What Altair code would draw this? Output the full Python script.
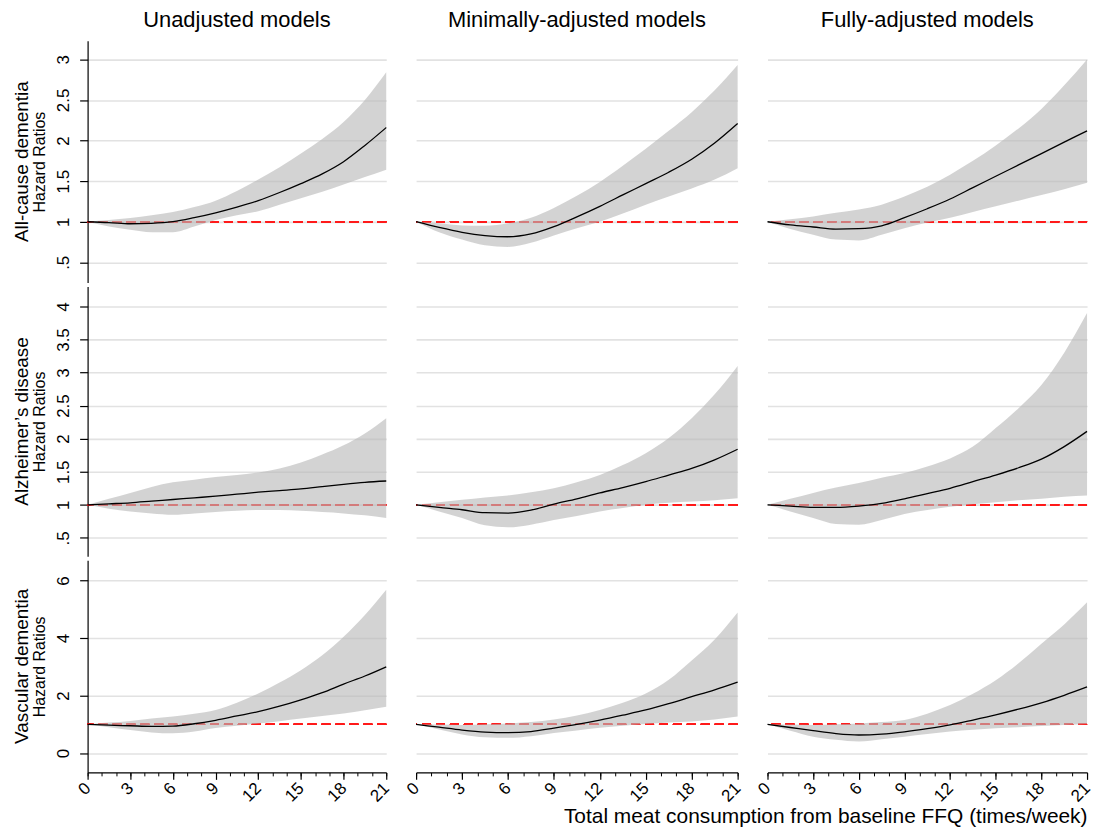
import altair as alt
import pandas as pd

X = [0, 1.5, 3, 4.5, 6, 7.5, 9, 10.5, 12, 13.5, 15, 16.5, 18, 19.5, 21]
X_MAJOR = [0, 3, 6, 9, 12, 15, 18, 21]
X_MINOR = list(range(22))

ROWS = ["All-cause dementia", "Alzheimer\u2019s disease", "Vascular dementia"]
COLS = ["Unadjusted models", "Minimally-adjusted models", "Fully-adjusted models"]
Y_TITLE = "Hazard Ratios"
X_TITLE = "Total meat consumption from baseline FFQ (times/week)"
REF = 1

Y_TICKS = [[0.5, 1, 1.5, 2, 2.5, 3], [0.5, 1, 1.5, 2, 2.5, 3, 3.5, 4], [0, 2, 4, 6]]
Y_DOMAINS = [[0.25, 3.23], [0.22, 4.3], [-0.67, 6.7]]

# All-cause dementia
HR_AC_U = [1.00, 0.99, 0.975, 0.98, 1.00, 1.05, 1.11, 1.18, 1.26, 1.36, 1.47, 1.59, 1.74, 1.94, 2.16]
LO_AC_U = [1.00, 0.94, 0.90, 0.87, 0.87, 0.94, 1.02, 1.08, 1.13, 1.21, 1.29, 1.37, 1.46, 1.55, 1.64]
HI_AC_U = [1.00, 1.02, 1.045, 1.08, 1.12, 1.18, 1.26, 1.38, 1.52, 1.67, 1.84, 2.02, 2.23, 2.50, 2.84]

HR_AC_M = [1.00, 0.93, 0.87, 0.83, 0.815, 0.85, 0.94, 1.06, 1.19, 1.33, 1.47, 1.61, 1.77, 1.97, 2.21]
LO_AC_M = [1.00, 0.87, 0.78, 0.71, 0.69, 0.74, 0.83, 0.92, 1.00, 1.10, 1.21, 1.31, 1.41, 1.52, 1.66]
HI_AC_M = [1.00, 0.98, 0.955, 0.95, 0.98, 1.05, 1.17, 1.32, 1.49, 1.69, 1.90, 2.12, 2.35, 2.62, 2.93]

HR_AC_F = [1.00, 0.96, 0.935, 0.91, 0.915, 0.95, 1.05, 1.16, 1.28, 1.42, 1.56, 1.70, 1.84, 1.98, 2.12]
LO_AC_F = [1.00, 0.91, 0.84, 0.78, 0.77, 0.84, 0.92, 0.99, 1.05, 1.12, 1.19, 1.26, 1.33, 1.40, 1.48]
HI_AC_F = [1.00, 1.03, 1.065, 1.11, 1.15, 1.21, 1.31, 1.43, 1.58, 1.75, 1.94, 2.15, 2.39, 2.68, 3.00]

# Alzheimer's disease
HR_AD_U = [1.00, 1.015, 1.03, 1.055, 1.08, 1.105, 1.13, 1.16, 1.19, 1.215, 1.24, 1.275, 1.31, 1.34, 1.36]
LO_AD_U = [1.00, 0.94, 0.90, 0.87, 0.85, 0.87, 0.89, 0.91, 0.92, 0.92, 0.91, 0.89, 0.87, 0.84, 0.80]
HI_AD_U = [1.00, 1.09, 1.18, 1.27, 1.34, 1.38, 1.42, 1.45, 1.49, 1.55, 1.64, 1.76, 1.90, 2.08, 2.31]

HR_AD_M = [1.00, 0.96, 0.925, 0.88, 0.875, 0.92, 1.01, 1.09, 1.18, 1.26, 1.35, 1.45, 1.55, 1.68, 1.84]
LO_AD_M = [1.00, 0.90, 0.80, 0.69, 0.66, 0.70, 0.77, 0.83, 0.90, 0.95, 1.00, 1.03, 1.05, 1.07, 1.10]
HI_AD_M = [1.00, 1.04, 1.075, 1.11, 1.14, 1.19, 1.25, 1.34, 1.45, 1.60, 1.78, 2.01, 2.31, 2.67, 3.10]

HR_AD_F = [1.00, 0.98, 0.96, 0.96, 0.98, 1.02, 1.09, 1.17, 1.25, 1.35, 1.45, 1.56, 1.69, 1.88, 2.11]
LO_AD_F = [1.00, 0.90, 0.80, 0.71, 0.70, 0.77, 0.86, 0.92, 0.97, 1.01, 1.04, 1.07, 1.09, 1.12, 1.14]
HI_AD_F = [1.00, 1.09, 1.18, 1.26, 1.33, 1.41, 1.48, 1.58, 1.70, 1.88, 2.16, 2.46, 2.81, 3.30, 3.90]

# Vascular dementia
HR_VD_U = [1.00, 0.97, 0.95, 0.93, 0.94, 1.02, 1.14, 1.29, 1.44, 1.63, 1.85, 2.10, 2.40, 2.68, 3.00]
LO_VD_U = [1.00, 0.90, 0.80, 0.72, 0.69, 0.75, 0.87, 0.95, 1.03, 1.11, 1.20, 1.29, 1.38, 1.49, 1.61]
HI_VD_U = [1.00, 1.06, 1.12, 1.20, 1.27, 1.37, 1.50, 1.75, 2.07, 2.45, 2.88, 3.40, 4.04, 4.80, 5.68]

HR_VD_M = [1.00, 0.90, 0.80, 0.73, 0.71, 0.75, 0.87, 1.00, 1.15, 1.32, 1.50, 1.72, 1.96, 2.20, 2.47]
LO_VD_M = [1.00, 0.82, 0.65, 0.55, 0.53, 0.59, 0.70, 0.79, 0.88, 0.95, 1.01, 1.06, 1.10, 1.17, 1.27]
HI_VD_M = [1.00, 0.99, 0.98, 1.00, 1.03, 1.08, 1.17, 1.31, 1.50, 1.75, 2.07, 2.55, 3.22, 3.95, 4.89]

HR_VD_F = [1.00, 0.89, 0.78, 0.68, 0.63, 0.66, 0.74, 0.85, 0.98, 1.15, 1.33, 1.53, 1.75, 2.01, 2.30]
LO_VD_F = [1.00, 0.78, 0.57, 0.46, 0.40, 0.48, 0.57, 0.66, 0.75, 0.81, 0.86, 0.90, 0.94, 0.98, 1.01]
HI_VD_F = [1.00, 0.99, 0.98, 1.00, 1.03, 1.08, 1.15, 1.37, 1.67, 2.06, 2.53, 3.12, 3.80, 4.47, 5.24]

HR = [[HR_AC_U, HR_AC_M, HR_AC_F], [HR_AD_U, HR_AD_M, HR_AD_F], [HR_VD_U, HR_VD_M, HR_VD_F]]
LO = [[LO_AC_U, LO_AC_M, LO_AC_F], [LO_AD_U, LO_AD_M, LO_AD_F], [LO_VD_U, LO_VD_M, LO_VD_F]]
HI = [[HI_AC_U, HI_AC_M, HI_AC_F], [HI_AD_U, HI_AD_M, HI_AD_F], [HI_VD_U, HI_VD_M, HI_VD_F]]

HEIGHTS = [243, 271, 213]
WIDTHS = [300, 323, 321]
FONT = "Liberation Sans"


def panel(r, c):
    df = pd.DataFrame({"x": X, "hr": HR[r][c], "lo": LO[r][c], "hi": HI[r][c]})
    h, w = HEIGHTS[r], WIDTHS[c]
    bottom = r == 2
    first = c == 0
    yscale = alt.Scale(domain=Y_DOMAINS[r], nice=False, zero=False)
    xscale = alt.Scale(domain=[0, 21], nice=False, zero=False)
    if first:
        yaxis = alt.Axis(values=Y_TICKS[r], title=Y_TITLE, titleFontSize=16, titleFont=FONT,
                         titleFontWeight="normal", titlePadding=7,
                         labelAngle=270, labelAlign="center", labelBaseline="bottom",
                         labelFontSize=17, labelPadding=7, tickSize=8, tickWidth=1.2,
                         domainWidth=1.2, grid=True,
                         labelExpr="datum.value == 0.5 ? '.5' : format(datum.value, '~g')")
    else:
        yaxis = alt.Axis(values=Y_TICKS[r], title=None, labels=False, ticks=False,
                         domain=False, grid=True)
    if bottom:
        xmajor = alt.Axis(values=X_MAJOR, labelAngle=315, labelAlign="right",
                          labelBaseline="middle", labelFontSize=17, labelPadding=6,
                          tickSize=7, tickWidth=1.2, domainWidth=1.2, grid=False,
                          labelFlush=False, labelOverlap=False,
                          title=X_TITLE if c == 2 else "",
                          titleAnchor="end", titleFontSize=21, titleFont=FONT,
                          titleFontWeight="normal", titlePadding=1)
        xminor = alt.Axis(values=X_MINOR, orient="bottom", labels=False, domain=False,
                          grid=False, tickSize=3.5, tickWidth=1, title="")
    else:
        xmajor = None
        xminor = None

    base = alt.Chart(df)
    ref = alt.Chart(df).mark_rule(color="#ff1a1a", strokeDash=[9, 5], strokeWidth=1.3).encode(
        y=alt.Y(datum=REF, scale=yscale, axis=yaxis)
    )
    band = base.mark_area(color="#b8b8b8", opacity=0.62, interpolate="monotone").encode(
        x=alt.X("x:Q", scale=xscale, axis=xmajor),
        y=alt.Y("lo:Q", scale=yscale, axis=yaxis),
        y2="hi:Q",
    )
    line = base.mark_line(color="#000000", strokeWidth=1.3, interpolate="monotone").encode(
        x=alt.X("x:Q", scale=xscale, axis=xminor),
        y=alt.Y("hr:Q", scale=yscale, axis=yaxis),
    )
    layers = [ref, band, line]
    if first:
        lab = alt.Chart(pd.DataFrame({"label": [ROWS[r]]})).mark_text(
            angle=270, fontSize=19, font=FONT, align="center", baseline="middle", color="#000"
        ).encode(x=alt.value(-66), y=alt.value(h / 2), text="label:N")
        layers.append(lab)
    ch = alt.layer(*layers).properties(width=w, height=h)
    if bottom:
        ch = ch.resolve_axis(x="independent").resolve_scale(x="shared")
    if r == 0:
        ch = ch.properties(title=alt.TitleParams(text=COLS[c], fontSize=22, font=FONT,
                                                 fontWeight="normal", offset=9,
                                                 anchor="middle", color="#000"))
    return ch


charts = [panel(r, c) for r in range(3) for c in range(3)]

chart = alt.concat(
    *charts, columns=3, spacing={"row": 4, "column": 30}, bounds="flush", align="each"
).properties(
    padding={"left": 13, "top": 7, "right": 3, "bottom": 5}, background="white"
).configure_view(stroke=None).configure_axis(
    domainColor="#000000", tickColor="#000000", labelColor="#000000",
    titleColor="#000000", labelFont=FONT, gridColor="#e2e2e2", gridWidth=1.6
)

chart.save("out.html", embed_options={"renderer": "svg", "actions": False})
